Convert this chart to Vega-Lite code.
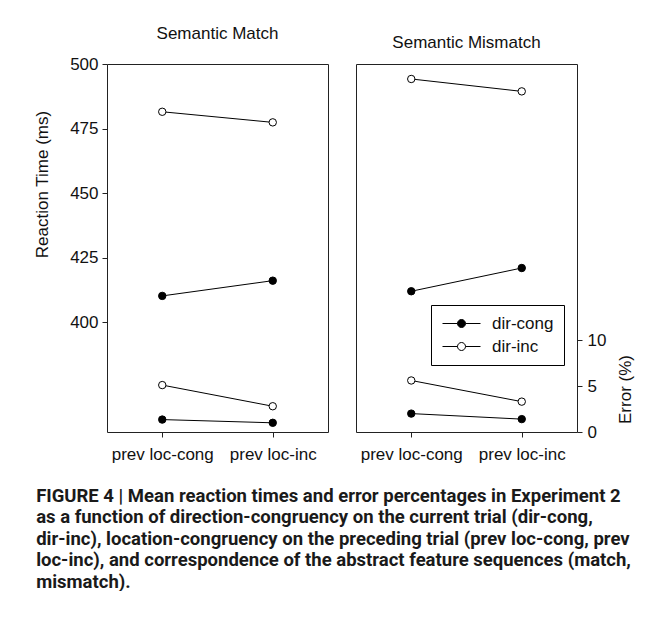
{
  "$schema": "https://vega.github.io/schema/vega-lite/v6.json",
  "background": "white",
  "padding": {"left": 33, "top": 24, "right": 0, "bottom": 0},
  "data": {
    "values": [
      {"panel": "Match", "prev": "prev loc-cong", "cond": "dir-cong", "measure": "RT", "value": 410.2},
      {"panel": "Match", "prev": "prev loc-inc", "cond": "dir-cong", "measure": "RT", "value": 416.1},
      {"panel": "Match", "prev": "prev loc-cong", "cond": "dir-inc", "measure": "RT", "value": 481.5},
      {"panel": "Match", "prev": "prev loc-inc", "cond": "dir-inc", "measure": "RT", "value": 477.4},
      {"panel": "Match", "prev": "prev loc-cong", "cond": "dir-cong", "measure": "Err", "value": 1.35},
      {"panel": "Match", "prev": "prev loc-inc", "cond": "dir-cong", "measure": "Err", "value": 1.0},
      {"panel": "Match", "prev": "prev loc-cong", "cond": "dir-inc", "measure": "Err", "value": 5.1},
      {"panel": "Match", "prev": "prev loc-inc", "cond": "dir-inc", "measure": "Err", "value": 2.8},
      {"panel": "Mismatch", "prev": "prev loc-cong", "cond": "dir-cong", "measure": "RT", "value": 412.0},
      {"panel": "Mismatch", "prev": "prev loc-inc", "cond": "dir-cong", "measure": "RT", "value": 421.0},
      {"panel": "Mismatch", "prev": "prev loc-cong", "cond": "dir-inc", "measure": "RT", "value": 494.2},
      {"panel": "Mismatch", "prev": "prev loc-inc", "cond": "dir-inc", "measure": "RT", "value": 489.4},
      {"panel": "Mismatch", "prev": "prev loc-cong", "cond": "dir-cong", "measure": "Err", "value": 2.0},
      {"panel": "Mismatch", "prev": "prev loc-inc", "cond": "dir-cong", "measure": "Err", "value": 1.4},
      {"panel": "Mismatch", "prev": "prev loc-cong", "cond": "dir-inc", "measure": "Err", "value": 5.6},
      {"panel": "Mismatch", "prev": "prev loc-inc", "cond": "dir-inc", "measure": "Err", "value": 3.3}
    ]
  },
  "title": {
    "text": [
      "FIGURE 4 | Mean reaction times and error percentages in Experiment 2",
      "as a function of direction-congruency on the current trial (dir-cong,",
      "dir-inc), location-congruency on the preceding trial (prev loc-cong, prev",
      "loc-inc), and correspondence of the abstract feature sequences (match,",
      "mismatch)."
    ],
    "orient": "bottom",
    "anchor": "start",
    "frame": "bounds",
    "font": "Roboto",
    "fontWeight": "bold",
    "fontSize": 18.5,
    "lineHeight": 21.5,
    "color": "#1a1a1a",
    "offset": 24,
    "dx": 3
  },
  "spacing": 26,
  "hconcat": [
    {
      "title": {"text": "Semantic Match", "fontSize": 17, "fontWeight": "normal", "font": "Liberation Sans", "color": "#111", "offset": 12},
      "width": 221,
      "height": 368,
      "transform": [{"filter": "datum.panel === 'Match'"}],
      "encoding": {
        "x": {
          "field": "prev", "type": "ordinal", "sort": ["prev loc-cong", "prev loc-inc"],
          "scale": {"type": "point", "padding": 0.5},
          "axis": {"title": null, "labelAngle": 0, "labelPadding": 9}
        }
      },
      "layer": [
        {
          "transform": [{"filter": "datum.measure === 'RT'"}],
          "encoding": {
            "y": {
              "field": "value", "type": "quantitative",
              "scale": {"domain": [357.5, 500], "nice": false, "zero": false},
              "axis": {"orient": "left", "values": [400, 425, 450, 475, 500], "title": "Reaction Time (ms)", "titlePadding": 18, "titleY": 120, "labelPadding": 4}
            }
          },
          "layer": [
            {"mark": {"type": "line", "color": "black", "strokeWidth": 1}, "encoding": {"detail": {"field": "cond"}}},
            {"mark": {"type": "point", "shape": "circle", "size": 55, "stroke": "black", "strokeWidth": 1, "opacity": 1, "filled": false},
             "encoding": {"fill": {"field": "cond", "type": "nominal", "scale": {"domain": ["dir-cong", "dir-inc"], "range": ["black", "white"]}, "legend": null}}}
          ]
        },
        {
          "transform": [{"filter": "datum.measure === 'Err'"}],
          "encoding": {
            "y": {
              "field": "value", "type": "quantitative",
              "scale": {"domain": [0, 40], "nice": false, "zero": true},
              "axis": null
            }
          },
          "layer": [
            {"mark": {"type": "line", "color": "black", "strokeWidth": 1}, "encoding": {"detail": {"field": "cond"}}},
            {"mark": {"type": "point", "shape": "circle", "size": 55, "stroke": "black", "strokeWidth": 1, "opacity": 1, "filled": false},
             "encoding": {"fill": {"field": "cond", "type": "nominal", "scale": {"domain": ["dir-cong", "dir-inc"], "range": ["black", "white"]}, "legend": null}}}
          ]
        }
      ],
      "resolve": {"scale": {"y": "independent"}}
    },
    {
      "title": {"text": "Semantic Mismatch", "fontSize": 17, "fontWeight": "normal", "font": "Liberation Sans", "color": "#111", "offset": 12},
      "width": 221,
      "height": 368,
      "transform": [{"filter": "datum.panel === 'Mismatch'"}],
      "encoding": {
        "x": {
          "field": "prev", "type": "ordinal", "sort": ["prev loc-cong", "prev loc-inc"],
          "scale": {"type": "point", "padding": 0.5},
          "axis": {"title": null, "labelAngle": 0, "labelPadding": 9}
        }
      },
      "layer": [
        {
          "transform": [{"filter": "datum.measure === 'RT'"}],
          "encoding": {
            "y": {
              "field": "value", "type": "quantitative",
              "scale": {"domain": [357.5, 500], "nice": false, "zero": false},
              "axis": null
            }
          },
          "layer": [
            {"mark": {"type": "line", "color": "black", "strokeWidth": 1}, "encoding": {"detail": {"field": "cond"}}},
            {"mark": {"type": "point", "shape": "circle", "size": 55, "stroke": "black", "strokeWidth": 1, "opacity": 1, "filled": false},
             "encoding": {"fill": {"field": "cond", "type": "nominal", "scale": {"domain": ["dir-cong", "dir-inc"], "range": ["black", "white"]},
               "legend": {"orient": "none", "legendX": 75, "legendY": 241, "title": null, "symbolType": "M-4.75,0H-1M1,0H4.75M-1,0A1,1,0,1,1,1,0A1,1,0,1,1,-1,0Z", "symbolSize": 64, "symbolStrokeColor": "black", "symbolStrokeWidth": 1, "symbolOffset": 12, "labelOffset": 22, "labelFontSize": 17, "labelColor": "#111", "labelFont": "Liberation Sans", "strokeColor": "black", "padding": 10, "rowPadding": 5}}}}
          ]
        },
        {
          "transform": [{"filter": "datum.measure === 'Err'"}],
          "encoding": {
            "y": {
              "field": "value", "type": "quantitative",
              "scale": {"domain": [0, 40], "nice": false, "zero": true},
              "axis": {"orient": "right", "values": [0, 5, 10], "title": "Error (%)", "titlePadding": 29, "titleY": 325, "titleAngle": 270, "labelPadding": 5}
            }
          },
          "layer": [
            {"mark": {"type": "line", "color": "black", "strokeWidth": 1}, "encoding": {"detail": {"field": "cond"}}},
            {"mark": {"type": "point", "shape": "circle", "size": 55, "stroke": "black", "strokeWidth": 1, "opacity": 1, "filled": false},
             "encoding": {"fill": {"field": "cond", "type": "nominal", "scale": {"domain": ["dir-cong", "dir-inc"], "range": ["black", "white"]},
               "legend": {"orient": "none", "legendX": 75, "legendY": 241, "title": null, "symbolType": "M-4.75,0H-1M1,0H4.75M-1,0A1,1,0,1,1,1,0A1,1,0,1,1,-1,0Z", "symbolSize": 64, "symbolStrokeColor": "black", "symbolStrokeWidth": 1, "symbolOffset": 12, "labelOffset": 22, "labelFontSize": 17, "labelColor": "#111", "labelFont": "Liberation Sans", "strokeColor": "black", "padding": 10, "rowPadding": 5}}}}
          ]
        }
      ],
      "resolve": {"scale": {"y": "independent"}}
    }
  ],
  "resolve": {"scale": {"fill": "independent"}, "legend": {"fill": "independent"}},
  "config": {
    "font": "Liberation Sans",
    "view": {"stroke": "#222", "strokeWidth": 1},
    "axis": {
      "labelFontSize": 17, "labelColor": "#111", "labelFont": "Liberation Sans",
      "titleFontSize": 17, "titleFontWeight": "normal", "titleColor": "#111", "titleFont": "Liberation Sans",
      "tickColor": "#222", "tickSize": 5, "domain": false, "grid": false
    }
  }
}
